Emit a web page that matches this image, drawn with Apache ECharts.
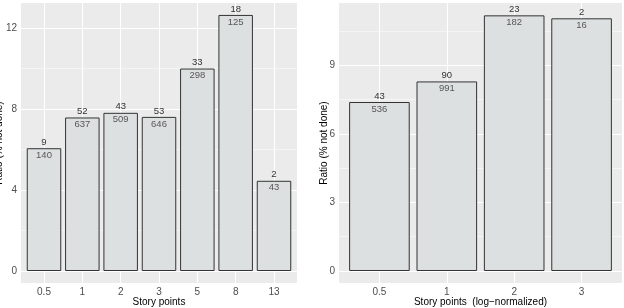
<!DOCTYPE html>
<html><head><meta charset="utf-8">
<script src="https://cdn.jsdelivr.net/npm/echarts@6/dist/echarts.min.js"></script>
<style>html,body{margin:0;padding:0;background:#fff}#c{width:624px;height:308px}</style>
</head><body><div id="c"></div>
<script>
// Left panel data
const leftCats = ['0.5','1','2','3','5','8','13'];
const leftRatio = [6.07, 7.59, 7.82, 7.62, 10.01, 12.66, 4.46];
const leftNotDone = [9, 52, 43, 53, 33, 18, 2];
const leftTotal = [140, 637, 509, 646, 298, 125, 43];
const leftTicks = [0, 4, 8, 12];
const leftMinor = [2, 6, 10];
// Right panel data
const rightCats = ['0.5','1','2','3'];
const rightRatio = [7.39, 8.29, 11.18, 11.05];
const rightNotDone = [43, 90, 23, 2];
const rightTotal = [536, 991, 182, 16];
const rightTicks = [0, 3, 6, 9];
const rightMinor = [1.5, 4.5, 7.5, 10.5];

const FONT = 'Liberation Sans, Arial, sans-serif';
const chart = echarts.init(document.getElementById('c'), null, {renderer:'canvas'});

function xAxisFor(idx, cats, name){
  return {
    type:'value', gridIndex: idx, min: -0.6, max: cats.length - 1 + 0.6,
    name: name, nameLocation:'middle', nameGap: 14, nameMoveOverlap:false,
    nameTextStyle:{color:'#000', fontSize:10, fontFamily:FONT},
    axisLine:{show:false}, splitLine:{show:false},
    axisTick:{show:true, length:3, customValues: cats.map((c,i)=>i), lineStyle:{color:'#333'}},
    axisLabel:{customValues: cats.map((c,i)=>i), formatter: v => cats[Math.round(v)], color:'#4d4d4d', fontSize:10, fontFamily:FONT, margin:4}
  };
}
function yAxisFor(idx, ticks, min, max, nameGap){
  return {
    type:'value', gridIndex: idx, min: min, max: max,
    name:'Ratio (% not done)', nameLocation:'middle', nameGap: nameGap, nameMoveOverlap:false,
    nameTextStyle:{color:'#000', fontSize:10, fontFamily:FONT},
    axisLine:{show:false}, splitLine:{show:false},
    axisTick:{show:true, length:3, customValues: ticks, lineStyle:{color:'#333'}},
    axisLabel:{customValues: ticks, color:'#4d4d4d', fontSize:10, fontFamily:FONT, margin:4}
  };
}
function gridSeries(idx, cats, major, minor){
  const data = [];
  major.forEach(v => data.push({yAxis: v, lineStyle:{width:1}}));
  minor.forEach(v => data.push({yAxis: v, lineStyle:{width:0.5}}));
  cats.forEach((c,i) => data.push({xAxis: i, lineStyle:{width:1}}));
  return {
    type:'line', xAxisIndex: idx, yAxisIndex: idx, data: [], silent:true, z:1,
    markLine:{ silent:true, symbol:'none', z:1, animation:false,
      label:{show:false}, lineStyle:{color:'#ffffff', type:'solid'}, data: data }
  };
}
function barSeries(idx, vals, top, width){
  return {
    type:'bar', xAxisIndex: idx, yAxisIndex: idx, z:3, barWidth: width,
    data: vals.map((v,i)=>[i, v]),
    itemStyle:{color:'#dde0e0', borderColor:'#333333', borderWidth:1},
    label:{show:true, position:'top', distance:1, color:'#333', fontSize:9.5, fontFamily:FONT,
      formatter: p => String(top[p.dataIndex])}
  };
}
function innerLabels(idx, vals, bottom){
  return {
    type:'scatter', xAxisIndex: idx, yAxisIndex: idx, z:4, symbolSize:0, silent:true,
    data: vals.map((v,i)=>[i, v]),
    label:{show:true, position:'bottom', distance:2, color:'#333', fontSize:9.5, fontFamily:FONT,
      formatter: p => String(bottom[p.dataIndex])}
  };
}

chart.setOption({
  animation:false,
  grid:[
    {left:21, top:3, width:276, height:280, show:true, backgroundColor:'#ebebeb', borderWidth:0, containLabel:false, outerBoundsMode:'none'},
    {left:339, top:3, width:283, height:280, show:true, backgroundColor:'#ebebeb', borderWidth:0, containLabel:false, outerBoundsMode:'none'}
  ],
  xAxis:[ xAxisFor(0, leftCats, 'Story points'), xAxisFor(1, rightCats, 'Story points  (log\u2212normalized)') ],
  yAxis:[ yAxisFor(0, leftTicks, -0.593, 13.25, 17), yAxisFor(1, rightTicks, -0.525, 11.72, 10) ],
  series:[
    gridSeries(0, leftCats, leftTicks, leftMinor),
    gridSeries(1, rightCats, rightTicks, rightMinor),
    barSeries(0, leftRatio, leftNotDone, 34.5),
    barSeries(1, rightRatio, rightNotDone, 60.6),
    innerLabels(0, leftRatio, leftTotal),
    innerLabels(1, rightRatio, rightTotal)
  ]
});
</script></body></html>
